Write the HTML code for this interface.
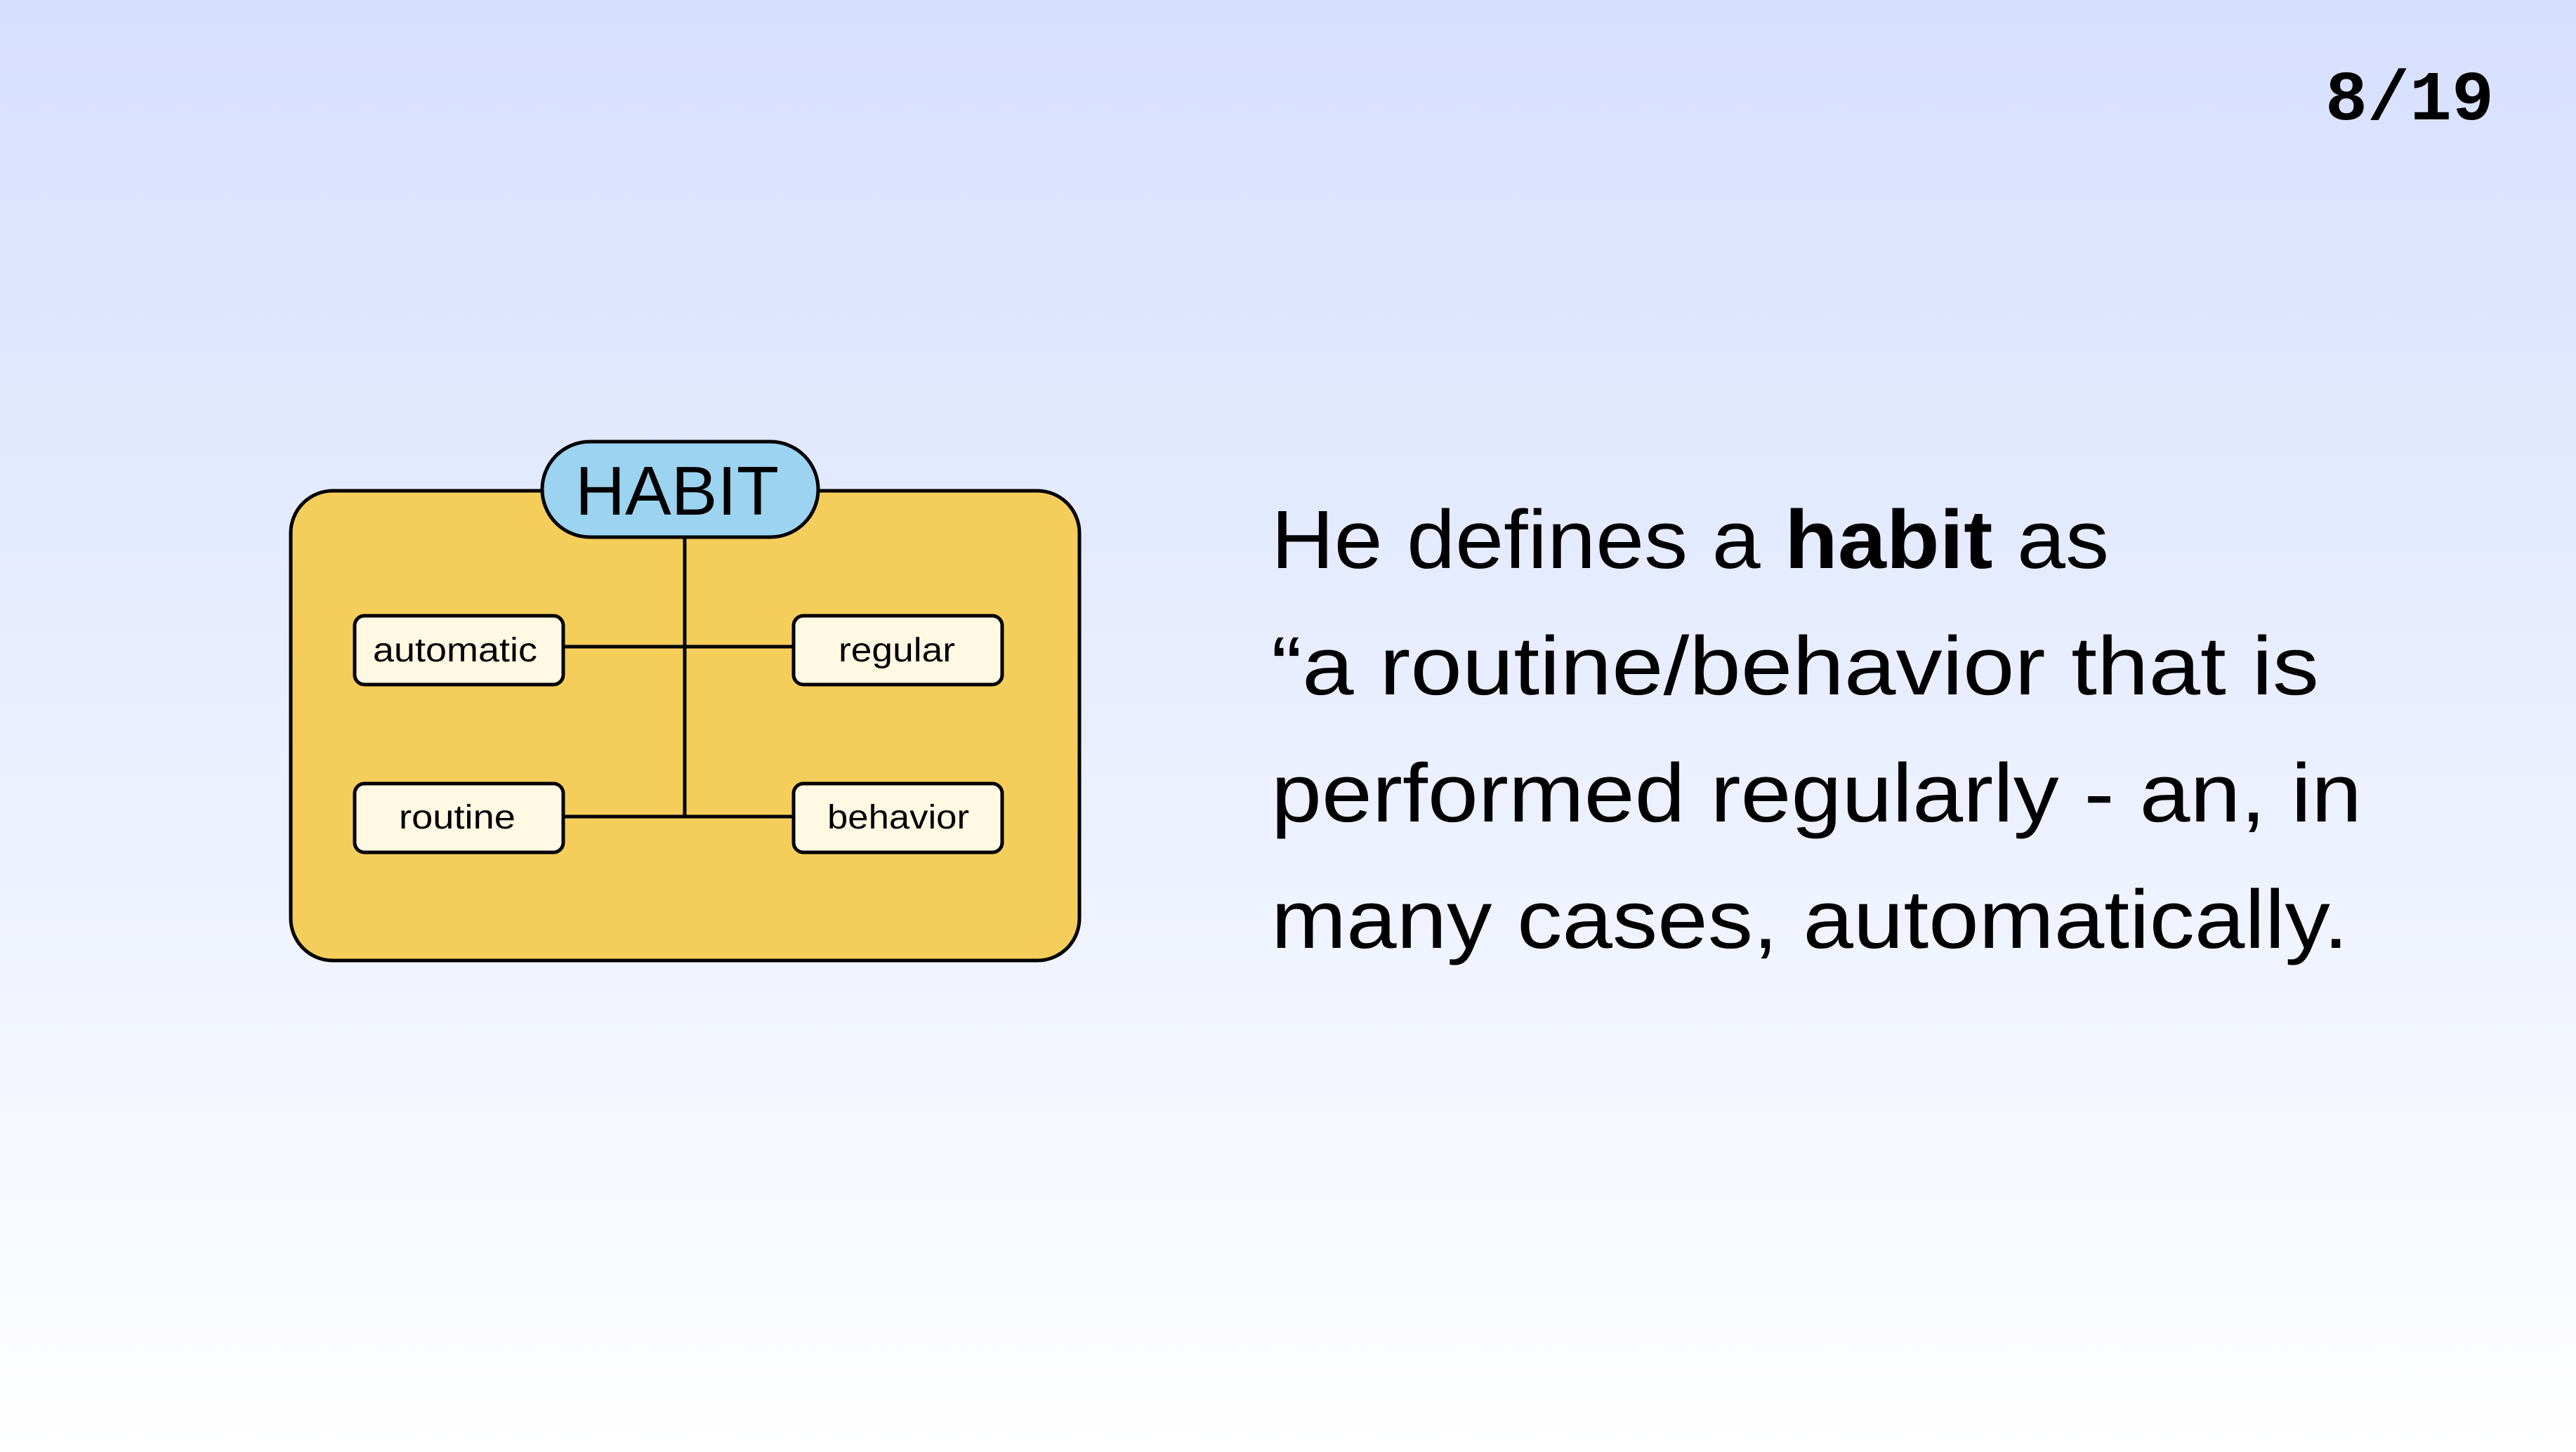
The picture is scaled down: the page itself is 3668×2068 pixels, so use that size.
<!DOCTYPE html>
<html><head><meta charset="utf-8"><style>
html,body{margin:0;padding:0}
body{width:3668px;height:2068px;overflow:hidden;background:linear-gradient(to bottom,#d6dffe 0%,#eef2ff 60%,#ffffff 100%)}
svg{display:block}
</style></head><body>
<svg width="3668" height="2068" xmlns="http://www.w3.org/2000/svg">
<text x="3311" y="170" font-family="Liberation Mono, monospace" font-weight="bold" font-size="100" fill="#000" textLength="240" lengthAdjust="spacingAndGlyphs">8/19</text>
<rect x="414" y="699" width="1123" height="669" rx="60" fill="#f5cd5b" stroke="#000" stroke-width="5"/>
<line x1="975" y1="765" x2="975" y2="1163" stroke="#000" stroke-width="5"/>
<line x1="802" y1="921" x2="1130" y2="921" stroke="#000" stroke-width="5"/>
<line x1="802" y1="1163" x2="1130" y2="1163" stroke="#000" stroke-width="5"/>
<rect x="772" y="629" width="393" height="136" rx="68" fill="#9bd3f0" stroke="#000" stroke-width="5"/>
<text x="964" y="733" text-anchor="middle" font-family="Liberation Sans, sans-serif" font-size="98" fill="#000" textLength="290" lengthAdjust="spacingAndGlyphs">HABIT</text>
<g fill="#fff8e3" stroke="#000" stroke-width="5">
<rect x="505" y="877" width="297" height="98" rx="14"/>
<rect x="1130" y="877" width="297" height="98" rx="14"/>
<rect x="505" y="1116" width="297" height="98" rx="14"/>
<rect x="1130" y="1116" width="297" height="98" rx="14"/>
</g>
<g font-family="Liberation Sans, sans-serif" font-size="48" fill="#000" text-anchor="middle">
<text x="648" y="942" textLength="234" lengthAdjust="spacingAndGlyphs">automatic</text>
<text x="1277" y="942" textLength="166" lengthAdjust="spacingAndGlyphs">regular</text>
<text x="651" y="1180" textLength="166" lengthAdjust="spacingAndGlyphs">routine</text>
<text x="1279" y="1180" textLength="202" lengthAdjust="spacingAndGlyphs">behavior</text>
</g>
<g font-family="Liberation Sans, sans-serif" font-size="118" fill="#000">
<text x="1810" y="809" textLength="1193" lengthAdjust="spacingAndGlyphs">He defines a <tspan font-weight="bold">habit</tspan> as</text>
<text x="1810" y="989" textLength="1492" lengthAdjust="spacingAndGlyphs">“a routine/behavior that is</text>
<text x="1810" y="1170" textLength="1553" lengthAdjust="spacingAndGlyphs">performed regularly - an, in</text>
<text x="1810" y="1350" textLength="1534" lengthAdjust="spacingAndGlyphs">many cases, automatically.</text>
</g>
</svg>
</body></html>
